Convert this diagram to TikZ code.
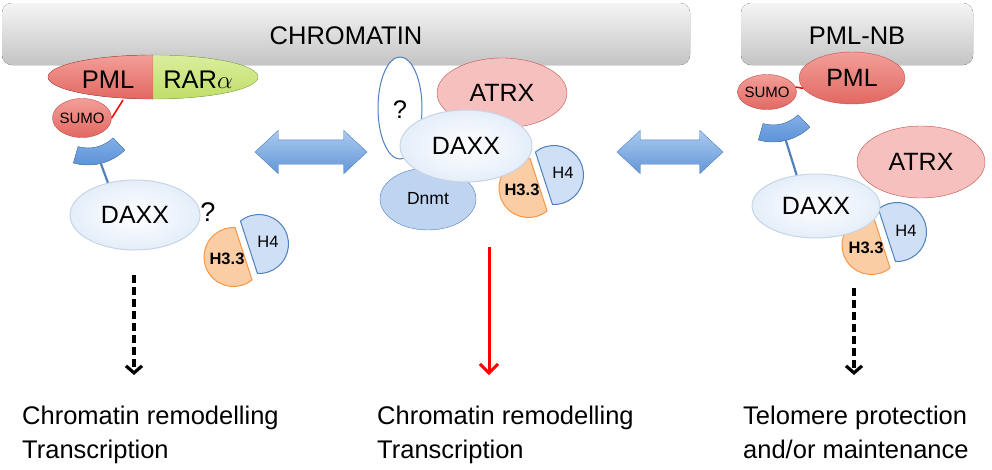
\documentclass[tikz,border=0pt]{standalone}
\usepackage{fontspec}
\setmainfont{Liberation Sans}
\usetikzlibrary{shapes.geometric,shapes.arrows,arrows.meta}

\definecolor{barlight}{RGB}{245,245,245}
\definecolor{bardark}{RGB}{196,196,196}
\definecolor{pmlred}{RGB}{226,104,98}
\definecolor{pmltop}{RGB}{243,158,152}
\definecolor{rededge}{RGB}{192,80,77}
\definecolor{rargreen}{RGB}{192,222,104}
\definecolor{rartop}{RGB}{218,238,158}
\definecolor{greenedge}{RGB}{155,187,89}
\definecolor{atrxpink}{RGB}{246,192,190}
\definecolor{blueedge}{RGB}{79,129,189}
\definecolor{dnmtblue}{RGB}{190,212,240}
\definecolor{histblue}{RGB}{206,223,246}
\definecolor{historange}{RGB}{251,205,165}
\definecolor{orangeedge}{RGB}{247,150,70}
\definecolor{daxxedge}{RGB}{200,212,228}
\definecolor{daxxouter}{RGB}{228,238,249}
\definecolor{cupblue}{RGB}{88,143,214}
\definecolor{cuptop}{RGB}{130,175,230}
\definecolor{arrowlight}{RGB}{170,202,240}
\definecolor{arrowdark}{RGB}{100,150,215}

\tikzset{
  bar/.style={rounded corners=10pt, top color=barlight, bottom color=bardark},
  txt/.style={font=\fontsize{25.5pt}{34pt}\selectfont, inner sep=0pt},
  prot/.style={ellipse, inner sep=0pt, font=\fontsize{25pt}{30pt}\selectfont},
  daxx/.style={prot, draw=daxxedge, line width=1pt, inner color=white, outer color=daxxouter},
  redprot/.style={prot, draw=rededge, top color=pmltop, bottom color=pmlred},
  atrx/.style={prot, draw=rededge, fill=atrxpink},
  dnmt/.style={prot, draw=blueedge, fill=dnmtblue, font=\fontsize{17.5pt}{20pt}\selectfont},
  sumo/.style={redprot, inner xsep=-4pt, font=\fontsize{15pt}{18pt}\selectfont},
  cup/.style={draw=blueedge, top color=cuptop, bottom color=cupblue},
  stem/.style={blueedge, line width=2.2pt},
  tether/.style={red, line width=1.5pt},
  hthree/.style={draw=orangeedge, line width=1pt, fill=historange},
  hfour/.style={draw=blueedge, line width=1pt, fill=histblue},
  htxt/.style={inner sep=0pt, font=\fontsize{16.5pt}{18pt}\selectfont},
  dblarrow/.style={double arrow, double arrow head extend=9.5pt, double arrow tip angle=86,
    draw=blueedge, top color=arrowlight, bottom color=arrowdark, inner xsep=0pt, inner ysep=12pt},
  dashdown/.style={black, line width=3.2pt, dash pattern=on 8pt off 4pt,
    -{Straight Barb[length=7pt,width=16pt]}},
  reddown/.style={red, line width=3pt, -{Straight Barb[length=9pt,width=18pt]}}
}

\begin{document}
\begin{tikzpicture}[x=1pt, y=-1pt]
  \useasboundingbox (0,0) rectangle (992,469);

  % top bars
  \fill[bar] (2,3) rectangle (690,65);
  \fill[bar] (741,3) rectangle (973,65);
  \node[txt] (chrom) at (346,36) {CHROMATIN};
  \node[txt] (pmlnb) at (857,36) {PML-NB};

  % left: PML-RARa fusion
  \filldraw[draw=rededge, top color=pmltop, bottom color=pmlred]
    (153,55) arc[start angle=270, end angle=90, x radius=105, y radius=22] -- cycle;
  \filldraw[draw=greenedge, top color=rartop, bottom color=rargreen]
    (153,55) arc[start angle=-90, end angle=90, x radius=105, y radius=22] -- cycle;
  \node[txt] (pmlL) at (108,80) {PML};
  \node[txt] (rarL) at (198,80) {RAR$\alpha$};
  \node[sumo, minimum width=59pt, minimum height=39pt] (sumoL) at (82,118) {SUMO};
  \coordinate (fusL) at (123,100);
  \draw[tether] (fusL) -- (sumoL.0);

  \coordinate (cupL) at (88,112);
  \filldraw[cup] ([shift={(46:36)}]cupL) arc[start angle=46, end angle=106, radius=36]
    -- ([shift={(106:53)}]cupL) arc[start angle=106, end angle=46, radius=53] -- cycle;

  % left histones
  \filldraw[hthree] (233.5,257) ++(51:29.5) arc[start angle=51, end angle=273, radius=29.5] -- cycle;
  \filldraw[hfour] (259,244) ++(231:29.5) arc[start angle=231, end angle=453, radius=29.5] -- cycle;
  \node[htxt, font=\fontsize{16.5pt}{18pt}\selectfont\bfseries] (h33L) at (227,259) {H3.3};
  \node[htxt] (h4L) at (268,242) {H4};

  \node[daxx, minimum width=130pt, minimum height=70pt] (daxxL) at (135,215) {DAXX};
  \draw[stem] ([shift={(76:53)}]cupL) -- (daxxL.130);
  \node[txt, font=\fontsize{27pt}{30pt}\selectfont] (qL) at (208,212) {?};

  % middle complex
  \node[dnmt, minimum width=96pt, minimum height=62pt] (dnmt) at (428,199) {Dnmt};
  \node[prot, draw=blueedge, line width=1pt, fill=white, minimum width=44pt,
    minimum height=102pt] (unk) at (400,108) {};
  \node[txt] (qM) at (400,110) {?};
  \node[atrx, minimum width=130pt, minimum height=70pt] (atrxM) at (502,93) {ATRX};
  \filldraw[hthree] (528.5,188) ++(51:29.5) arc[start angle=51, end angle=273, radius=29.5] -- cycle;
  \filldraw[hfour] (554,175) ++(231:29.5) arc[start angle=231, end angle=453, radius=29.5] -- cycle;
  \node[htxt, font=\fontsize{16.5pt}{18pt}\selectfont\bfseries] (h33M) at (522,190) {H3.3};
  \node[htxt] (h4M) at (563,173) {H4};
  \node[daxx, minimum width=132pt, minimum height=72pt] (daxxM) at (466,146) {DAXX};

  % right: PML-NB
  \node[sumo, minimum width=59pt, minimum height=35pt] (sumoR) at (767,92) {SUMO};
  \node[redprot, minimum width=106pt, minimum height=52pt] (pmlR) at (852,78) {PML};
  \draw[tether] (sumoR.10) -- (pmlR.192);
  \coordinate (cupR) at (773,89);
  \filldraw[cup] ([shift={(46:36)}]cupR) arc[start angle=46, end angle=106, radius=36]
    -- ([shift={(106:53)}]cupR) arc[start angle=106, end angle=46, radius=53] -- cycle;
  \node[atrx, minimum width=128pt, minimum height=72pt] (atrxR) at (921,162) {ATRX};
  \filldraw[hthree] (871.5,245) ++(51:29.5) arc[start angle=51, end angle=273, radius=29.5] -- cycle;
  \filldraw[hfour] (897,232) ++(231:29.5) arc[start angle=231, end angle=453, radius=29.5] -- cycle;
  \node[htxt, font=\fontsize{16.5pt}{18pt}\selectfont\bfseries] (h33R) at (866,248) {H3.3};
  \node[htxt] (h4R) at (906,231) {H4};
  \node[daxx, minimum width=128pt, minimum height=64pt] (daxxR) at (816,206) {DAXX};
  \draw[stem] ([shift={(76:53)}]cupR) -- (daxxR.122);

  % equilibrium arrows
  \node[dblarrow, minimum height=112pt] (eqL) at (311,152) {};
  \node[dblarrow, minimum height=106pt] (eqR) at (670,152) {};

  % outcomes
  \node[txt, anchor=north west, align=left] (outL) at (22,406) {Chromatin remodelling\\Transcription};
  \node[txt, anchor=north west, align=left] (outM) at (377,406) {Chromatin remodelling\\Transcription};
  \node[txt, anchor=north west, align=left] (outR) at (743,406) {Telomere protection\\and/or maintenance};

  \coordinate (aL) at (134,275);
  \coordinate (bL) at (134,375);
  \coordinate (aM) at (489,247);
  \coordinate (bM) at (489,375);
  \coordinate (aR) at (854,288);
  \coordinate (bR) at (854,375);
  \draw[dashdown] (aL) -- (bL);
  \draw[reddown] (aM) -- (bM);
  \draw[dashdown] (aR) -- (bR);
\end{tikzpicture}
\end{document}
